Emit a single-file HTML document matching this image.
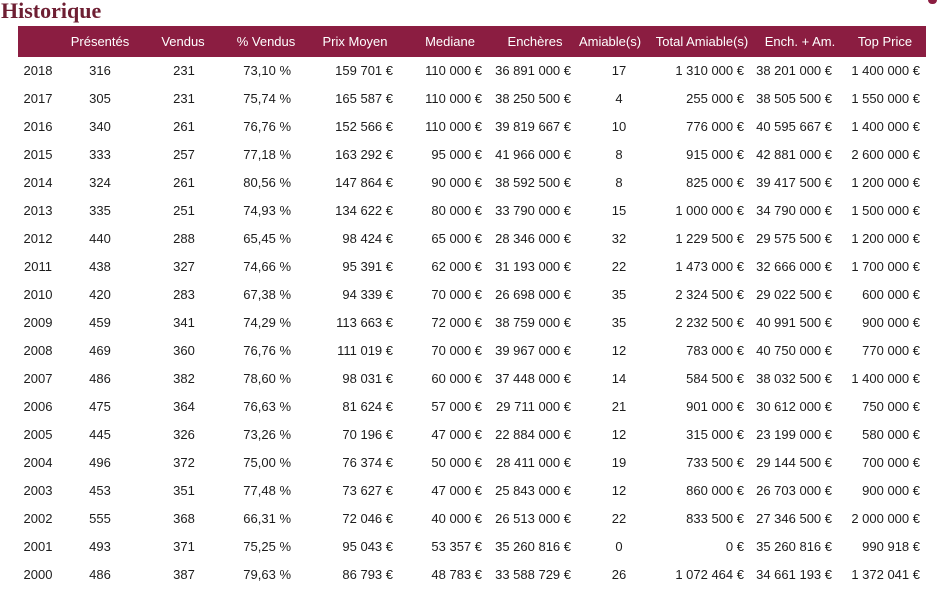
<!DOCTYPE html>
<html><head><meta charset="utf-8">
<style>
html,body{margin:0;padding:0;background:#fff;}
body{width:939px;height:593px;position:relative;overflow:hidden;font-family:"Liberation Sans",sans-serif;color:#1c1c1c;}
.title{position:absolute;left:1px;top:0;font-family:"Liberation Serif",serif;font-weight:bold;font-size:22px;line-height:22px;color:#6e1f33;}
.dot{position:absolute;left:928px;top:0;width:9px;height:4px;background:#8b1d41;border-radius:0 0 4px 4px;}
.hd{position:absolute;left:18px;top:26px;width:908px;height:31px;background:#8b1d41;}
.h{position:absolute;top:26px;height:31px;line-height:31px;font-size:13px;color:#fff;width:140px;text-align:center;white-space:nowrap;}
.r{position:absolute;left:0;width:939px;height:28px;line-height:28px;font-size:13px;}
.r span{position:absolute;top:0;white-space:nowrap;}
.c1{left:-12px;width:100px;text-align:center;}
.c2{left:50px;width:100px;text-align:center;}
.c3{left:134px;width:100px;text-align:center;}
.c4{right:648px;text-align:right;}
.c5{right:546px;text-align:right;}
.c6{right:457px;text-align:right;}
.c7{right:368px;text-align:right;}
.c8{left:569px;width:100px;text-align:center;}
.c9{right:195px;text-align:right;}
.c10{right:107px;text-align:right;}
.c11{right:19px;text-align:right;}
</style></head><body>
<div class="title">Historique</div>
<div class="dot"></div>
<div class="hd"></div>
<div class="h" style="left:30px">Présentés</div>
<div class="h" style="left:113px">Vendus</div>
<div class="h" style="left:196px">% Vendus</div>
<div class="h" style="left:285px">Prix Moyen</div>
<div class="h" style="left:380px">Mediane</div>
<div class="h" style="left:465px">Enchères</div>
<div class="h" style="left:540px">Amiable(s)</div>
<div class="h" style="left:632px">Total Amiable(s)</div>
<div class="h" style="left:730px">Ench. + Am.</div>
<div class="h" style="left:815px">Top Price</div>

<div class="r" style="top:57px"><span class="c1">2018</span><span class="c2">316</span><span class="c3">231</span><span class="c4">73,10&nbsp;%</span><span class="c5">159&nbsp;701&nbsp;€</span><span class="c6">110&nbsp;000&nbsp;€</span><span class="c7">36&nbsp;891&nbsp;000&nbsp;€</span><span class="c8">17</span><span class="c9">1&nbsp;310&nbsp;000&nbsp;€</span><span class="c10">38&nbsp;201&nbsp;000&nbsp;€</span><span class="c11">1&nbsp;400&nbsp;000&nbsp;€</span></div>
<div class="r" style="top:85px"><span class="c1">2017</span><span class="c2">305</span><span class="c3">231</span><span class="c4">75,74&nbsp;%</span><span class="c5">165&nbsp;587&nbsp;€</span><span class="c6">110&nbsp;000&nbsp;€</span><span class="c7">38&nbsp;250&nbsp;500&nbsp;€</span><span class="c8">4</span><span class="c9">255&nbsp;000&nbsp;€</span><span class="c10">38&nbsp;505&nbsp;500&nbsp;€</span><span class="c11">1&nbsp;550&nbsp;000&nbsp;€</span></div>
<div class="r" style="top:113px"><span class="c1">2016</span><span class="c2">340</span><span class="c3">261</span><span class="c4">76,76&nbsp;%</span><span class="c5">152&nbsp;566&nbsp;€</span><span class="c6">110&nbsp;000&nbsp;€</span><span class="c7">39&nbsp;819&nbsp;667&nbsp;€</span><span class="c8">10</span><span class="c9">776&nbsp;000&nbsp;€</span><span class="c10">40&nbsp;595&nbsp;667&nbsp;€</span><span class="c11">1&nbsp;400&nbsp;000&nbsp;€</span></div>
<div class="r" style="top:141px"><span class="c1">2015</span><span class="c2">333</span><span class="c3">257</span><span class="c4">77,18&nbsp;%</span><span class="c5">163&nbsp;292&nbsp;€</span><span class="c6">95&nbsp;000&nbsp;€</span><span class="c7">41&nbsp;966&nbsp;000&nbsp;€</span><span class="c8">8</span><span class="c9">915&nbsp;000&nbsp;€</span><span class="c10">42&nbsp;881&nbsp;000&nbsp;€</span><span class="c11">2&nbsp;600&nbsp;000&nbsp;€</span></div>
<div class="r" style="top:169px"><span class="c1">2014</span><span class="c2">324</span><span class="c3">261</span><span class="c4">80,56&nbsp;%</span><span class="c5">147&nbsp;864&nbsp;€</span><span class="c6">90&nbsp;000&nbsp;€</span><span class="c7">38&nbsp;592&nbsp;500&nbsp;€</span><span class="c8">8</span><span class="c9">825&nbsp;000&nbsp;€</span><span class="c10">39&nbsp;417&nbsp;500&nbsp;€</span><span class="c11">1&nbsp;200&nbsp;000&nbsp;€</span></div>
<div class="r" style="top:197px"><span class="c1">2013</span><span class="c2">335</span><span class="c3">251</span><span class="c4">74,93&nbsp;%</span><span class="c5">134&nbsp;622&nbsp;€</span><span class="c6">80&nbsp;000&nbsp;€</span><span class="c7">33&nbsp;790&nbsp;000&nbsp;€</span><span class="c8">15</span><span class="c9">1&nbsp;000&nbsp;000&nbsp;€</span><span class="c10">34&nbsp;790&nbsp;000&nbsp;€</span><span class="c11">1&nbsp;500&nbsp;000&nbsp;€</span></div>
<div class="r" style="top:225px"><span class="c1">2012</span><span class="c2">440</span><span class="c3">288</span><span class="c4">65,45&nbsp;%</span><span class="c5">98&nbsp;424&nbsp;€</span><span class="c6">65&nbsp;000&nbsp;€</span><span class="c7">28&nbsp;346&nbsp;000&nbsp;€</span><span class="c8">32</span><span class="c9">1&nbsp;229&nbsp;500&nbsp;€</span><span class="c10">29&nbsp;575&nbsp;500&nbsp;€</span><span class="c11">1&nbsp;200&nbsp;000&nbsp;€</span></div>
<div class="r" style="top:253px"><span class="c1">2011</span><span class="c2">438</span><span class="c3">327</span><span class="c4">74,66&nbsp;%</span><span class="c5">95&nbsp;391&nbsp;€</span><span class="c6">62&nbsp;000&nbsp;€</span><span class="c7">31&nbsp;193&nbsp;000&nbsp;€</span><span class="c8">22</span><span class="c9">1&nbsp;473&nbsp;000&nbsp;€</span><span class="c10">32&nbsp;666&nbsp;000&nbsp;€</span><span class="c11">1&nbsp;700&nbsp;000&nbsp;€</span></div>
<div class="r" style="top:281px"><span class="c1">2010</span><span class="c2">420</span><span class="c3">283</span><span class="c4">67,38&nbsp;%</span><span class="c5">94&nbsp;339&nbsp;€</span><span class="c6">70&nbsp;000&nbsp;€</span><span class="c7">26&nbsp;698&nbsp;000&nbsp;€</span><span class="c8">35</span><span class="c9">2&nbsp;324&nbsp;500&nbsp;€</span><span class="c10">29&nbsp;022&nbsp;500&nbsp;€</span><span class="c11">600&nbsp;000&nbsp;€</span></div>
<div class="r" style="top:309px"><span class="c1">2009</span><span class="c2">459</span><span class="c3">341</span><span class="c4">74,29&nbsp;%</span><span class="c5">113&nbsp;663&nbsp;€</span><span class="c6">72&nbsp;000&nbsp;€</span><span class="c7">38&nbsp;759&nbsp;000&nbsp;€</span><span class="c8">35</span><span class="c9">2&nbsp;232&nbsp;500&nbsp;€</span><span class="c10">40&nbsp;991&nbsp;500&nbsp;€</span><span class="c11">900&nbsp;000&nbsp;€</span></div>
<div class="r" style="top:337px"><span class="c1">2008</span><span class="c2">469</span><span class="c3">360</span><span class="c4">76,76&nbsp;%</span><span class="c5">111&nbsp;019&nbsp;€</span><span class="c6">70&nbsp;000&nbsp;€</span><span class="c7">39&nbsp;967&nbsp;000&nbsp;€</span><span class="c8">12</span><span class="c9">783&nbsp;000&nbsp;€</span><span class="c10">40&nbsp;750&nbsp;000&nbsp;€</span><span class="c11">770&nbsp;000&nbsp;€</span></div>
<div class="r" style="top:365px"><span class="c1">2007</span><span class="c2">486</span><span class="c3">382</span><span class="c4">78,60&nbsp;%</span><span class="c5">98&nbsp;031&nbsp;€</span><span class="c6">60&nbsp;000&nbsp;€</span><span class="c7">37&nbsp;448&nbsp;000&nbsp;€</span><span class="c8">14</span><span class="c9">584&nbsp;500&nbsp;€</span><span class="c10">38&nbsp;032&nbsp;500&nbsp;€</span><span class="c11">1&nbsp;400&nbsp;000&nbsp;€</span></div>
<div class="r" style="top:393px"><span class="c1">2006</span><span class="c2">475</span><span class="c3">364</span><span class="c4">76,63&nbsp;%</span><span class="c5">81&nbsp;624&nbsp;€</span><span class="c6">57&nbsp;000&nbsp;€</span><span class="c7">29&nbsp;711&nbsp;000&nbsp;€</span><span class="c8">21</span><span class="c9">901&nbsp;000&nbsp;€</span><span class="c10">30&nbsp;612&nbsp;000&nbsp;€</span><span class="c11">750&nbsp;000&nbsp;€</span></div>
<div class="r" style="top:421px"><span class="c1">2005</span><span class="c2">445</span><span class="c3">326</span><span class="c4">73,26&nbsp;%</span><span class="c5">70&nbsp;196&nbsp;€</span><span class="c6">47&nbsp;000&nbsp;€</span><span class="c7">22&nbsp;884&nbsp;000&nbsp;€</span><span class="c8">12</span><span class="c9">315&nbsp;000&nbsp;€</span><span class="c10">23&nbsp;199&nbsp;000&nbsp;€</span><span class="c11">580&nbsp;000&nbsp;€</span></div>
<div class="r" style="top:449px"><span class="c1">2004</span><span class="c2">496</span><span class="c3">372</span><span class="c4">75,00&nbsp;%</span><span class="c5">76&nbsp;374&nbsp;€</span><span class="c6">50&nbsp;000&nbsp;€</span><span class="c7">28&nbsp;411&nbsp;000&nbsp;€</span><span class="c8">19</span><span class="c9">733&nbsp;500&nbsp;€</span><span class="c10">29&nbsp;144&nbsp;500&nbsp;€</span><span class="c11">700&nbsp;000&nbsp;€</span></div>
<div class="r" style="top:477px"><span class="c1">2003</span><span class="c2">453</span><span class="c3">351</span><span class="c4">77,48&nbsp;%</span><span class="c5">73&nbsp;627&nbsp;€</span><span class="c6">47&nbsp;000&nbsp;€</span><span class="c7">25&nbsp;843&nbsp;000&nbsp;€</span><span class="c8">12</span><span class="c9">860&nbsp;000&nbsp;€</span><span class="c10">26&nbsp;703&nbsp;000&nbsp;€</span><span class="c11">900&nbsp;000&nbsp;€</span></div>
<div class="r" style="top:505px"><span class="c1">2002</span><span class="c2">555</span><span class="c3">368</span><span class="c4">66,31&nbsp;%</span><span class="c5">72&nbsp;046&nbsp;€</span><span class="c6">40&nbsp;000&nbsp;€</span><span class="c7">26&nbsp;513&nbsp;000&nbsp;€</span><span class="c8">22</span><span class="c9">833&nbsp;500&nbsp;€</span><span class="c10">27&nbsp;346&nbsp;500&nbsp;€</span><span class="c11">2&nbsp;000&nbsp;000&nbsp;€</span></div>
<div class="r" style="top:533px"><span class="c1">2001</span><span class="c2">493</span><span class="c3">371</span><span class="c4">75,25&nbsp;%</span><span class="c5">95&nbsp;043&nbsp;€</span><span class="c6">53&nbsp;357&nbsp;€</span><span class="c7">35&nbsp;260&nbsp;816&nbsp;€</span><span class="c8">0</span><span class="c9">0&nbsp;€</span><span class="c10">35&nbsp;260&nbsp;816&nbsp;€</span><span class="c11">990&nbsp;918&nbsp;€</span></div>
<div class="r" style="top:561px"><span class="c1">2000</span><span class="c2">486</span><span class="c3">387</span><span class="c4">79,63&nbsp;%</span><span class="c5">86&nbsp;793&nbsp;€</span><span class="c6">48&nbsp;783&nbsp;€</span><span class="c7">33&nbsp;588&nbsp;729&nbsp;€</span><span class="c8">26</span><span class="c9">1&nbsp;072&nbsp;464&nbsp;€</span><span class="c10">34&nbsp;661&nbsp;193&nbsp;€</span><span class="c11">1&nbsp;372&nbsp;041&nbsp;€</span></div>
</body></html>
